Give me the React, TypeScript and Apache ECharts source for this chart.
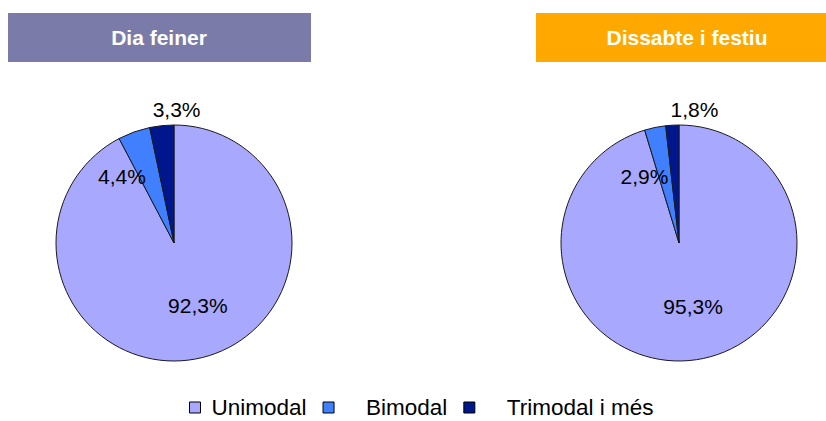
import React, { useEffect, useRef } from "react";
import * as echarts from "echarts";

const categories = ["Unimodal", "Bimodal", "Trimodal i més"];
const diaFeiner = [92.3, 4.4, 3.3];
const dissabteFestiu = [95.3, 2.9, 1.8];
const titles = ["Dia feiner", "Dissabte i festiu"];

const colors = ["#A8A8FF", "#4080FF", "#00168C"];
const FONT = "'Liberation Sans', Arial, sans-serif";

// label nudges (dx, dy) from the default inside position
const leftLabelShift = [[9, 2], [-31, -8], [9, -72]];
const rightLabelShift = [[5, 2], [-22, -6], [19, -72]];

const fmt = (v: number) => v.toFixed(1).replace(".", ",") + "%";

function makePie(values: number[], center: number[], shifts: number[][]) {
  return {
    type: "pie",
    center,
    radius: 118,
    startAngle: 90,
    clockwise: true,
    avoidLabelOverlap: false,
    emphasis: { disabled: true },
    itemStyle: { borderColor: "#1a1a1a", borderWidth: 1 },
    label: {
      show: true,
      position: "inside",
      color: "#000",
      fontFamily: FONT,
      fontSize: 21,
      formatter: (p: any) => fmt(p.value),
    },
    labelLine: { show: false },
    labelLayout: (p: any) => ({ dx: shifts[p.dataIndex][0], dy: shifts[p.dataIndex][1] }),
    data: categories.map((name, i) => ({
      name,
      value: values[i],
      itemStyle: { color: colors[i] },
    })),
  };
}

export default function App() {
  const ref = useRef<HTMLDivElement>(null);
  useEffect(() => {
    if (!ref.current) return;
    const chart = echarts.init(ref.current, null, { renderer: "svg" });
    const legendPads = [6, 27, 27];
    chart.setOption({
      animation: false,
      backgroundColor: "#fff",
      graphic: [
        {
          type: "rect",
          shape: { x: 8, y: 13, width: 303, height: 49 },
          style: { fill: "#7B7BA9" },
        },
        {
          type: "text",
          x: 159,
          y: 37,
          style: {
            text: titles[0],
            fill: "#fff",
            font: `bold 21px ${FONT}`,
            textAlign: "center",
            textVerticalAlign: "middle",
          },
        },
        {
          type: "rect",
          shape: { x: 536, y: 13, width: 290, height: 49 },
          style: { fill: "#FFA800" },
        },
        {
          type: "text",
          x: 687,
          y: 37,
          style: {
            text: titles[1],
            fill: "#fff",
            font: `bold 21px ${FONT}`,
            textAlign: "center",
            textVerticalAlign: "middle",
          },
        },
      ],
      legend: {
        left: 189,
        top: 396,
        padding: 0,
        itemGap: 16,
        itemWidth: 11,
        itemHeight: 11,
        icon: "rect",
        selectedMode: false,
        itemStyle: { borderColor: "#000", borderWidth: 1 },
        textStyle: { fontFamily: FONT, fontSize: 22.5, color: "#000", lineHeight: 22 },
        data: categories.map((name, i) => ({
          name,
          textStyle: { padding: [0, 0, 0, legendPads[i]] },
        })),
      },
      series: [
        makePie(diaFeiner, [174, 243], leftLabelShift),
        makePie(dissabteFestiu, [679, 243], rightLabelShift),
      ],
    });
    return () => chart.dispose();
  }, []);
  return (
    <div
      ref={ref}
      style={{ position: "fixed", left: 0, top: 0, width: 826, height: 421 }}
    />
  );
}
